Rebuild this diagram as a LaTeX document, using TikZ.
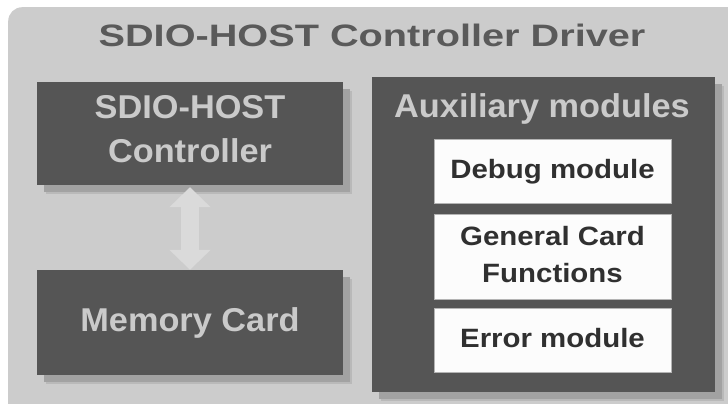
\documentclass[tikz,border=0pt]{standalone}
\usepackage{fontspec}
\usetikzlibrary{arrows.meta,shadows}
\newfontfamily\titlefont[FakeStretch=1.28]{Liberation Sans}
\newfontfamily\boxfont[FakeStretch=1.04]{Liberation Sans}
\newfontfamily\modfont[FakeStretch=1.11]{Liberation Sans}
\definecolor{outerfill}{HTML}{CCCCCC}
\definecolor{darkfill}{HTML}{555555}
\definecolor{shadowdark}{HTML}{A2A2A2}
\definecolor{shadowlight}{HTML}{B9B9B9}
\definecolor{darktext}{HTML}{CACACA}
\definecolor{titletext}{HTML}{5A5A5A}
\definecolor{modfill}{HTML}{FCFCFC}
\definecolor{modborder}{HTML}{B4B4B4}
\definecolor{modtext}{HTML}{303030}
\definecolor{arrowgray}{HTML}{DADADA}
\tikzset{
  outerbox/.style={fill=outerfill, rounded corners=14pt, inner sep=0pt},
  darkbox/.style={fill=darkfill, inner sep=0pt, align=center, text=darktext,
    font=\boxfont\bfseries\fontsize{33}{44}\selectfont,
    drop shadow={shadow xshift=9pt, shadow yshift=-9pt, fill=shadowlight, opacity=1},
    drop shadow={shadow xshift=7pt, shadow yshift=-7pt, fill=shadowdark, opacity=1}},
  darklabel/.style={text=darktext, inner sep=0pt, font=\boxfont\bfseries\fontsize{33}{44}\selectfont},
  modbox/.style={fill=modfill, draw=modborder, line width=0.8pt, minimum width=237pt,
    inner sep=0pt, align=center, text=modtext,
    font=\modfont\bfseries\fontsize{26.5}{37}\selectfont},
  titlelabel/.style={text=titletext, inner sep=0pt, font=\titlefont\bfseries\fontsize{31}{37}\selectfont},
  biarrow/.style={arrowgray, line width=18pt,
    {Triangle[width=40pt 0, length=20pt 0]}-{Triangle[width=40pt 0, length=20pt 0]}}
}
\begin{document}
\begin{tikzpicture}[x=1pt,y=-1pt]
\useasboundingbox (0,0) rectangle (728,404);
\clip (0,0) rectangle (728,404);
\node[outerbox, minimum width=740pt, minimum height=415pt, anchor=north west] (outer) at (8,7) {};
\node[titlelabel, anchor=base] (title) at (372,46.7) {SDIO-HOST Controller Driver};
\node[darkbox, minimum width=306pt, minimum height=103pt, text depth=8.6pt] (ctrl) at (190,133.5) {SDIO-HOST\\Controller};
\node[darkbox, minimum width=306pt, minimum height=105pt, text height=23.6pt, text depth=6.6pt] (mem) at (190,322.5) {Memory Card};
\node[darkbox, minimum width=343pt, minimum height=315pt] (aux) at (543.5,234.5) {};
\node[darklabel, anchor=base] (auxt) at (542,117) {Auxiliary modules};
\node[modbox, minimum height=64pt, text height=19pt, text depth=5pt] (dbg) at (552.5,171) {Debug module};
\node[modbox, minimum height=85pt, text depth=4.6pt] (gen) at (552.5,256.5) {General Card\\Functions};
\node[modbox, minimum height=64pt, text height=19pt, text depth=5pt] (err) at (552.5,340) {Error module};
\draw[biarrow] ([yshift=-2pt]ctrl.south) -- (mem.north);
\end{tikzpicture}
\end{document}
